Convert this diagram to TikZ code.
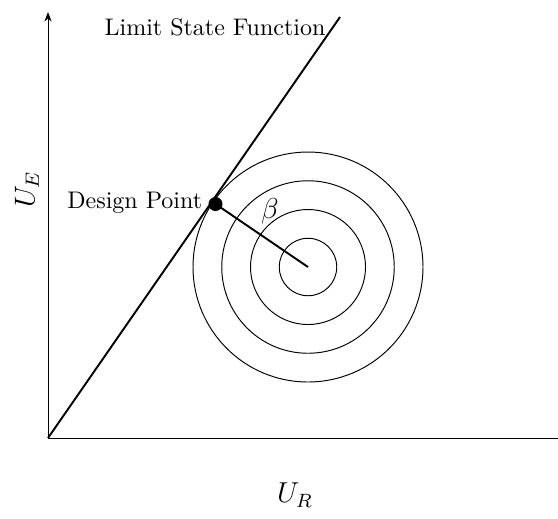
\documentclass[tikz,border=0pt]{standalone}
\usetikzlibrary{arrows.meta}
\begin{document}
\begin{tikzpicture}[x=0.4167pt,y=-0.4167pt,
  axis/.style={line width=0.4pt,-{Stealth[length=4pt,width=3pt]}},
  lsf/.style={line width=0.8pt},
  ring/.style={line width=0.4pt},
  lbl/.style={inner sep=1pt}]
\useasboundingbox (0,0) rectangle (558,518);
\coordinate (O) at (48,438);
\coordinate (Ytop) at (48,12);
\coordinate (Xend) at (558,438);
\coordinate (Ltop) at (340,17);
\coordinate (C) at (308,267);
\coordinate (DP) at (215.5,204);
\draw[axis] (O) -- (Ytop);
\draw[line width=0.4pt] (O) -- (Xend);
\draw[lsf] (O) -- (Ltop);
\foreach \r in {28.75,57.5,86.25,115} \draw[ring] (C) circle (\r);
\draw[lsf] (DP) -- (C);
\fill (DP) circle (7);
\node[lbl] (lsft) at (215,27) {Limit State Function};
\node[lbl,anchor=east] (dpt) at (205,203) {Design Point};
\node[lbl] (beta) at (270,211) {\large$\beta$};
\node[lbl,rotate=90] (ue) at (27,189) {\large$U_E$};
\node[lbl] (ur) at (295,495) {\large$U_R$};
\end{tikzpicture}
\end{document}
